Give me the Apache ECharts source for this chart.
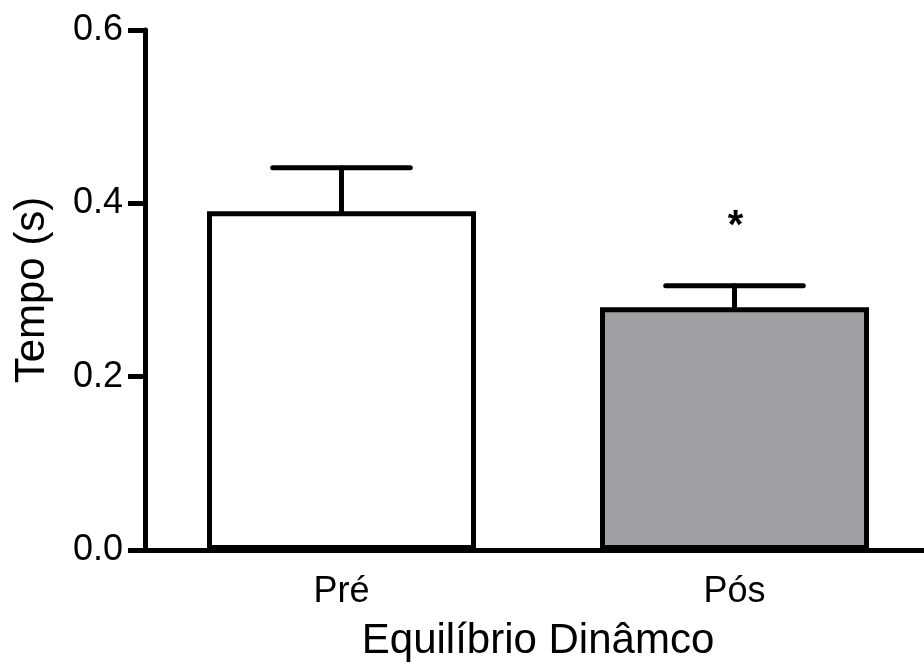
<!DOCTYPE html>
<html>
<head>
<meta charset="utf-8">
<script src="https://cdn.jsdelivr.net/npm/echarts@6/dist/echarts.min.js"></script>
<style>
html,body{margin:0;padding:0;background:#fff;}
#chart{width:924px;height:672px;}
</style>
</head>
<body>
<div id="chart"></div>
<script>
const categories = ['Pré', 'Pós'];
const means = [0.391, 0.280];
const errors = [0.050, 0.025];
const significance = ['', '*'];
const yAxisName = 'Tempo (s)';
const xAxisName = 'Equilíbrio Dinâmco';
const barColors = ['#ffffff', '#a09fa4'];

const FONT = '"Liberation Sans", Arial, sans-serif';
const chart = echarts.init(document.getElementById('chart'));

const errData = categories.map((c, i) => [i, means[i], errors[i], significance[i]]);

chart.setOption({
  animation: false,
  grid: { left: 145, right: -7, top: 30, bottom: 122, containLabel: false, outerBoundsMode: 'none' },
  xAxis: {
    type: 'category',
    data: categories,
    name: xAxisName,
    nameLocation: 'middle',
    nameGap: 70,
    nameTextStyle: { fontFamily: FONT, fontSize: 42, color: '#000' },
    axisLine: { lineStyle: { color: '#000', width: 5 } },
    axisTick: { alignWithLabel: true, length: 17, lineStyle: { color: '#000', width: 5 } },
    axisLabel: { fontFamily: FONT, fontSize: 36, color: '#000', margin: 24 },
    splitLine: { show: false }
  },
  yAxis: {
    type: 'value',
    min: 0,
    max: 0.6,
    interval: 0.2,
    name: yAxisName,
    nameLocation: 'middle',
    nameGap: 92,
    nameRotate: 90,
    nameTextStyle: { fontFamily: FONT, fontSize: 42, color: '#000' },
    axisLine: { show: true, lineStyle: { color: '#000', width: 5 } },
    axisTick: { show: true, length: 17, lineStyle: { color: '#000', width: 5 } },
    axisLabel: { fontFamily: FONT, fontSize: 36, color: '#000', margin: 22,
      formatter: v => v.toFixed(1) },
    splitLine: { show: false }
  },
  series: [
    {
      type: 'custom',
      z: 1,
      data: errData,
      renderItem: function (params, api) {
        const idx = api.value(0);
        const m = api.value(1);
        const e = api.value(2);
        const sig = significance[idx];
        const top = api.coord([idx, m]);
        const cap = api.coord([idx, m + e]);
        const band = api.size([1, 0])[0];
        const half = band * 0.175;
        const style = { stroke: '#000', lineWidth: 5, lineCap: 'round' };
        const children = [
          { type: 'line', shape: { x1: top[0], y1: top[1], x2: cap[0], y2: cap[1] }, style: style },
          { type: 'line', shape: { x1: cap[0] - half, y1: cap[1], x2: cap[0] + half, y2: cap[1] }, style: style }
        ];
        if (sig) {
          children.push({
            type: 'text',
            style: { text: sig, x: cap[0] + 1, y: cap[1] - 39, align: 'center', verticalAlign: 'bottom',
              fontFamily: FONT, fontSize: 40, fontWeight: 'bold', fill: '#000' }
          });
        }
        return { type: 'group', children: children };
      }
    },
    {
      type: 'bar',
      z: 2,
      barWidth: 269,
      data: means.map((v, i) => ({ value: v, itemStyle: { color: barColors[i] } })),
      itemStyle: { borderColor: '#000', borderWidth: 5 }
    }
  ]
});
</script>
</body>
</html>
